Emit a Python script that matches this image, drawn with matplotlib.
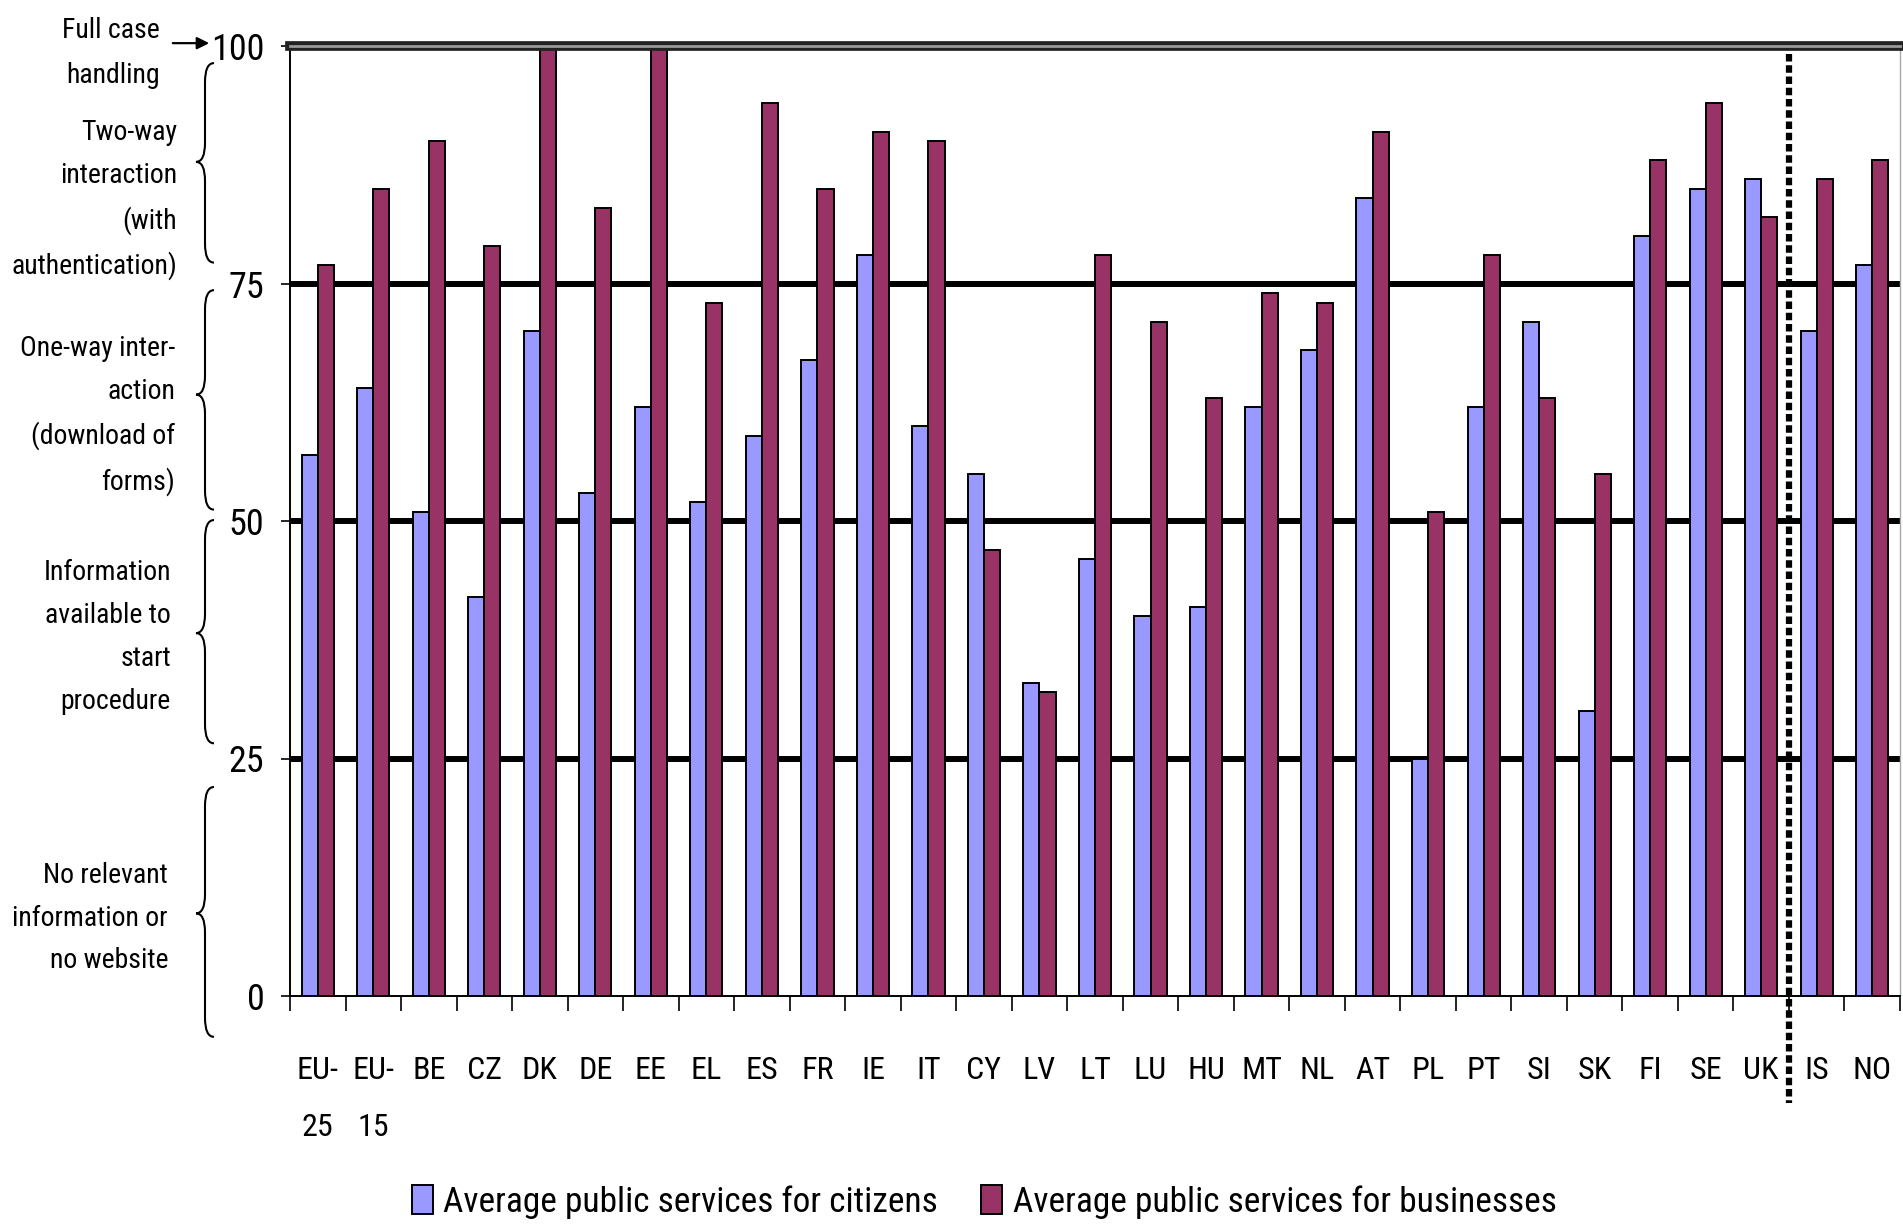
import matplotlib
matplotlib.use('Agg')
import matplotlib.pyplot as plt
import numpy as np
from matplotlib.path import Path
from matplotlib.patches import PathPatch, Patch
import matplotlib.transforms as mtransforms

categories = ['EU-\n25', 'EU-\n15', 'BE', 'CZ', 'DK', 'DE', 'EE', 'EL', 'ES', 'FR',
              'IE', 'IT', 'CY', 'LV', 'LT', 'LU', 'HU', 'MT', 'NL', 'AT',
              'PL', 'PT', 'SI', 'SK', 'FI', 'SE', 'UK', 'IS', 'NO']
citizens = [57, 64, 51, 42, 70, 53, 62, 52, 59, 67,
            78, 60, 55, 33, 46, 40, 41, 62, 68, 84,
            25, 62, 71, 30, 80, 85, 86, 70, 77]
businesses = [77, 85, 90, 79, 100, 83, 100, 73, 94, 85,
              91, 90, 47, 32, 78, 71, 63, 74, 73, 91,
              51, 78, 63, 55, 88, 94, 82, 86, 88]
y_ticks = [0, 25, 50, 75, 100]
series_names = ['Average public services for citizens', 'Average public services for businesses']
level_texts = ['Two-way\ninteraction\n(with\nauthentication)',
               'One-way inter-\naction\n(download of\nforms)',
               'Information\navailable to\nstart\nprocedure',
               'No relevant\ninformation or\nno website']
top_text = 'Full case\nhandling'

FONT = ['Roboto Condensed', 'Liberation Sans', 'DejaVu Sans']
plt.rcParams['font.family'] = FONT

W, H = 1903, 1224
fig = plt.figure(figsize=(W / 100, H / 100), dpi=100)
ax = fig.add_axes([290 / W, 1 - 996 / H, 1610 / W, 950 / H])

n = len(categories)
x = np.arange(n)
bw = 0.29
c_blue = '#9999FF'
c_purple = '#993366'
ax.bar(x - bw / 2, citizens, bw, color=c_blue, edgecolor='black', linewidth=1.4, zorder=3)
ax.bar(x + bw / 2, businesses, bw, color=c_purple, edgecolor='black', linewidth=1.4, zorder=3)

ax.set_xlim(-0.5, n - 0.5)
ax.set_ylim(0, 100)

# horizontal level lines
for yv in [25, 50, 75]:
    ax.axhline(yv, color='black', lw=4.3, zorder=1)
ax.axhline(100, color='#222222', lw=7.0, zorder=4, clip_on=False)
ax.axhline(100, color='#9a9a9a', lw=2.0, zorder=5, clip_on=False)

# dotted separator between UK and IS
ax.plot([26.5, 26.5], [99.2, -11.3], color='black', lw=4.5, linestyle=(0, (1.2, 0.6)),
        zorder=6, clip_on=False)

# spines
ax.spines['top'].set_visible(False)
ax.spines['right'].set_color('#aaaaaa')
ax.spines['right'].set_linewidth(1.0)
ax.spines['left'].set_linewidth(1.4)
ax.spines['bottom'].set_linewidth(1.4)

ax.set_yticks(y_ticks)
ax.set_yticklabels([str(v) for v in y_ticks], fontsize=26)
ax.tick_params(axis='y', direction='out', length=6.5, width=1.2, pad=12)

ax.set_xticks(np.arange(-0.5, n, 1.0))
ax.set_xticklabels([''] * (n + 1))
ax.tick_params(axis='x', which='major', direction='out', length=11, width=1.2)
ax.set_xticks(x, minor=True)
ax.set_xticklabels(categories, minor=True, fontsize=23, linespacing=2.25)
ax.tick_params(axis='x', which='minor', length=0, pad=43)

# left annotations: braces and text
trans = mtransforms.blended_transform_factory(fig.transFigure, ax.transData)


def brace(y_top, y_bot, y_tip, xe=214, xs=205, xt=196, d=2.0):
    xe, xs, xt = xe / W, xs / W, xt / W
    verts = [(xe, y_top), (xs, y_top), (xs, y_top - d),
             (xs, y_tip + d),
             (xs, y_tip), (xt, y_tip),
             (xs, y_tip), (xs, y_tip - d),
             (xs, y_bot + d),
             (xs, y_bot), (xe, y_bot)]
    codes = [Path.MOVETO, Path.CURVE3, Path.CURVE3,
             Path.LINETO,
             Path.CURVE3, Path.CURVE3,
             Path.CURVE3, Path.CURVE3,
             Path.LINETO,
             Path.CURVE3, Path.CURVE3]
    p = PathPatch(Path(verts, codes), transform=trans, facecolor='none',
                  edgecolor='black', lw=1.5, clip_on=False)
    fig.add_artist(p)


brace_specs = [(98.2, 77.2, 87.8), (74.3, 51.2, 63.3), (50.1, 26.6, 38.2), (22.0, -4.3, 8.7)]
text_specs = [(177, 83.8), (175, 61.1), (171, 37.8), (168, 8.2)]
for (yt, yb, ytip), (xr, yc), txt in zip(brace_specs, text_specs, level_texts):
    brace(yt, yb, ytip)
    fig.text(xr / W, yc, txt, transform=trans, ha='right', va='center',
             fontsize=20, linespacing=1.75)

fig.text(160 / W, 99.3, top_text, transform=trans, ha='right', va='center',
         fontsize=20, linespacing=1.85)
ax.annotate('', xy=(212 / W, 100.3), xycoords=trans, xytext=(170 / W, 100.3),
            textcoords=trans,
            arrowprops=dict(arrowstyle='-|>', color='black', lw=1.6, mutation_scale=18))

handles = [Patch(facecolor=c_blue, edgecolor='black', lw=1.4),
           Patch(facecolor=c_purple, edgecolor='black', lw=1.4)]
fig.legend(handles, series_names, loc='center', bbox_to_anchor=(984 / W, 1 - 1202 / H),
           ncol=2, frameon=False, fontsize=25.5, handlelength=0.6, handleheight=0.9,
           handletextpad=0.3, columnspacing=1.2)

fig.savefig('out.png', dpi=100)
